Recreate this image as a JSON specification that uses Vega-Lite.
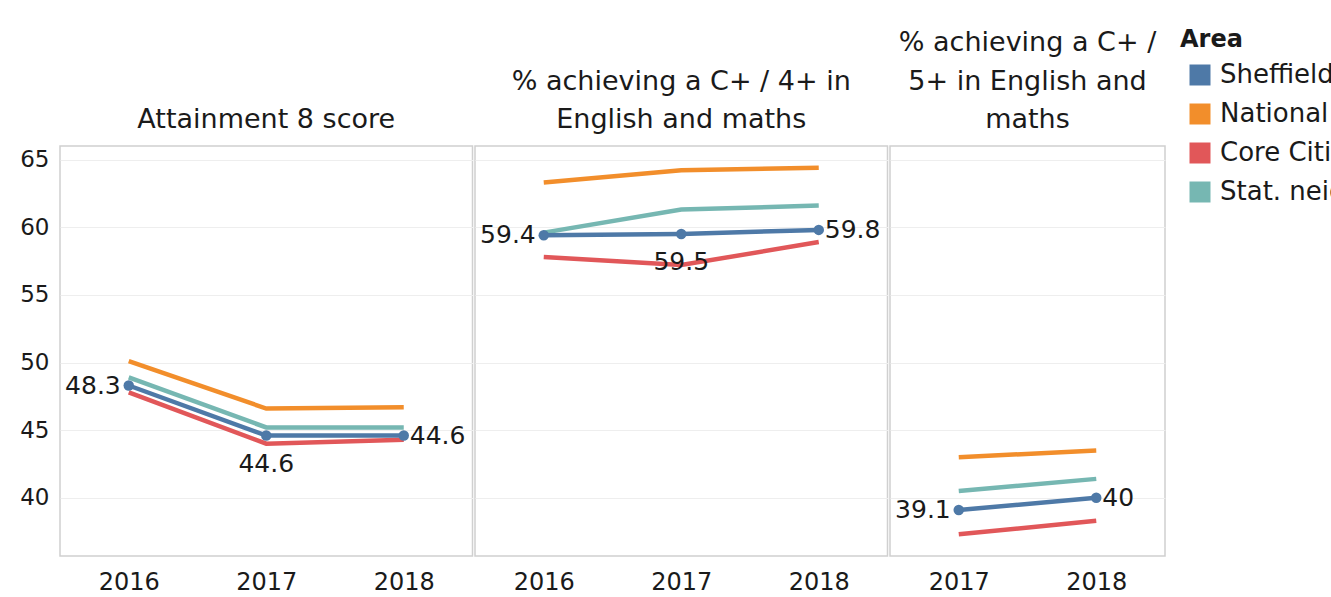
{
  "$schema": "https://vega.github.io/schema/vega-lite/v6.json",
  "padding": {"left": 19, "top": 28, "right": 0, "bottom": 0},
  "background": "white",
  "data": {"values": [
    {"Measure": "Attainment 8 score", "Area": "Sheffield", "Year": 2016, "Value": 48.3},
    {"Measure": "Attainment 8 score", "Area": "Sheffield", "Year": 2017, "Value": 44.6},
    {"Measure": "Attainment 8 score", "Area": "Sheffield", "Year": 2018, "Value": 44.6},
    {"Measure": "Attainment 8 score", "Area": "National", "Year": 2016, "Value": 50.1},
    {"Measure": "Attainment 8 score", "Area": "National", "Year": 2017, "Value": 46.6},
    {"Measure": "Attainment 8 score", "Area": "National", "Year": 2018, "Value": 46.7},
    {"Measure": "Attainment 8 score", "Area": "Core Cities", "Year": 2016, "Value": 47.8},
    {"Measure": "Attainment 8 score", "Area": "Core Cities", "Year": 2017, "Value": 44.0},
    {"Measure": "Attainment 8 score", "Area": "Core Cities", "Year": 2018, "Value": 44.3},
    {"Measure": "Attainment 8 score", "Area": "Stat. neighbours", "Year": 2016, "Value": 48.9},
    {"Measure": "Attainment 8 score", "Area": "Stat. neighbours", "Year": 2017, "Value": 45.2},
    {"Measure": "Attainment 8 score", "Area": "Stat. neighbours", "Year": 2018, "Value": 45.2},
    {"Measure": "% achieving a C+ / 4+ in English and maths", "Area": "Sheffield", "Year": 2016, "Value": 59.4},
    {"Measure": "% achieving a C+ / 4+ in English and maths", "Area": "Sheffield", "Year": 2017, "Value": 59.5},
    {"Measure": "% achieving a C+ / 4+ in English and maths", "Area": "Sheffield", "Year": 2018, "Value": 59.8},
    {"Measure": "% achieving a C+ / 4+ in English and maths", "Area": "National", "Year": 2016, "Value": 63.3},
    {"Measure": "% achieving a C+ / 4+ in English and maths", "Area": "National", "Year": 2017, "Value": 64.2},
    {"Measure": "% achieving a C+ / 4+ in English and maths", "Area": "National", "Year": 2018, "Value": 64.4},
    {"Measure": "% achieving a C+ / 4+ in English and maths", "Area": "Core Cities", "Year": 2016, "Value": 57.8},
    {"Measure": "% achieving a C+ / 4+ in English and maths", "Area": "Core Cities", "Year": 2017, "Value": 57.2},
    {"Measure": "% achieving a C+ / 4+ in English and maths", "Area": "Core Cities", "Year": 2018, "Value": 58.9},
    {"Measure": "% achieving a C+ / 4+ in English and maths", "Area": "Stat. neighbours", "Year": 2016, "Value": 59.6},
    {"Measure": "% achieving a C+ / 4+ in English and maths", "Area": "Stat. neighbours", "Year": 2017, "Value": 61.3},
    {"Measure": "% achieving a C+ / 4+ in English and maths", "Area": "Stat. neighbours", "Year": 2018, "Value": 61.6},
    {"Measure": "% achieving a C+ / 5+ in English and maths", "Area": "Sheffield", "Year": 2017, "Value": 39.1},
    {"Measure": "% achieving a C+ / 5+ in English and maths", "Area": "Sheffield", "Year": 2018, "Value": 40},
    {"Measure": "% achieving a C+ / 5+ in English and maths", "Area": "National", "Year": 2017, "Value": 43.0},
    {"Measure": "% achieving a C+ / 5+ in English and maths", "Area": "National", "Year": 2018, "Value": 43.5},
    {"Measure": "% achieving a C+ / 5+ in English and maths", "Area": "Core Cities", "Year": 2017, "Value": 37.3},
    {"Measure": "% achieving a C+ / 5+ in English and maths", "Area": "Core Cities", "Year": 2018, "Value": 38.3},
    {"Measure": "% achieving a C+ / 5+ in English and maths", "Area": "Stat. neighbours", "Year": 2017, "Value": 40.5},
    {"Measure": "% achieving a C+ / 5+ in English and maths", "Area": "Stat. neighbours", "Year": 2018, "Value": 41.4}
  ]},
  "facet": {
    "column": {
      "field": "Measure",
      "type": "nominal",
      "sort": ["Attainment 8 score", "% achieving a C+ / 4+ in English and maths", "% achieving a C+ / 5+ in English and maths"],
      "title": null,
      "header": {
        "labelExpr": "datum.value === '% achieving a C+ / 4+ in English and maths' ? ['% achieving a C+ / 4+ in', 'English and maths'] : datum.value === '% achieving a C+ / 5+ in English and maths' ? ['% achieving a C+ /', '5+ in English and', 'maths'] : datum.value"
      }
    }
  },
  "spacing": 0,
  "resolve": {"scale": {"x": "independent"}},
  "spec": {
    "width": {"step": 137.5},
    "height": 410,
    "encoding": {
      "x": {"field": "Year", "type": "ordinal", "title": null},
      "y": {"field": "Value", "type": "quantitative", "title": null, "scale": {"domain": [35.7, 66], "nice": false, "zero": false}, "axis": {"values": [40, 45, 50, 55, 60, 65]}}
    },
    "layer": [
      {
        "transform": [{"filter": "datum.Area !== 'Sheffield'"}],
        "mark": {"type": "line", "strokeWidth": 4.5},
        "encoding": {
          "color": {"field": "Area", "type": "nominal", "title": "Area",
            "scale": {"domain": ["Sheffield", "National", "Core Cities", "Stat. neighbours"], "range": ["#4e79a7", "#f28e2b", "#e15759", "#76b7b2"]},
            "legend": {"orient": "none", "legendX": 1120, "legendY": -118, "symbolOffset": 7, "encode": {"symbols": {"update": {"fill": {"scale": "color", "field": "value"}, "strokeWidth": {"value": 0}, "opacity": {"value": 1}}}}}
          }
        }
      },
      {
        "transform": [{"filter": "datum.Area === 'Sheffield'"}],
        "mark": {"type": "line", "strokeWidth": 4.5, "point": {"filled": true, "size": 110, "opacity": 1}},
        "encoding": {
          "color": {"field": "Area", "type": "nominal"}
        }
      },
      {
        "transform": [
          {"filter": "datum.Area === 'Sheffield'"},
          {"joinaggregate": [{"op": "min", "field": "Year", "as": "minYear"}, {"op": "max", "field": "Year", "as": "maxYear"}], "groupby": ["Measure"]},
          {"filter": "datum.Year === datum.minYear"}
        ],
        "mark": {"type": "text", "align": "right", "baseline": "middle", "dx": -8, "fontSize": 25, "color": "#1a1a1a"},
        "encoding": {"text": {"field": "Value", "type": "quantitative"}}
      },
      {
        "transform": [
          {"filter": "datum.Area === 'Sheffield'"},
          {"joinaggregate": [{"op": "min", "field": "Year", "as": "minYear"}, {"op": "max", "field": "Year", "as": "maxYear"}], "groupby": ["Measure"]},
          {"filter": "datum.Year === datum.maxYear"}
        ],
        "mark": {"type": "text", "align": "left", "baseline": "middle", "dx": 6, "fontSize": 25, "color": "#1a1a1a"},
        "encoding": {"text": {"field": "Value", "type": "quantitative"}}
      },
      {
        "transform": [
          {"filter": "datum.Area === 'Sheffield'"},
          {"joinaggregate": [{"op": "min", "field": "Year", "as": "minYear"}, {"op": "max", "field": "Year", "as": "maxYear"}], "groupby": ["Measure"]},
          {"filter": "datum.Year !== datum.minYear && datum.Year !== datum.maxYear"}
        ],
        "mark": {"type": "text", "align": "center", "baseline": "middle", "dy": 28, "fontSize": 25, "color": "#1a1a1a"},
        "encoding": {"text": {"field": "Value", "type": "quantitative"}}
      }
    ]
  },
  "config": {
    "font": "DejaVu Sans",
    "view": {"stroke": "#d0d0d0", "strokeWidth": 1.5},
    "axis": {"labelFont": "DejaVu Sans", "labelColor": "#1a1a1a", "domain": false, "ticks": false},
    "axisY": {"grid": true, "gridColor": "#eeeeee", "gridWidth": 1.2, "labelPadding": 10, "labelFontSize": 23},
    "axisX": {"grid": false, "labelAngle": 0, "labelPadding": 14, "labelFontSize": 24},
    "header": {"labelFont": "DejaVu Sans", "labelFontSize": 27, "labelColor": "#1a1a1a", "labelLineHeight": 38.5, "labelPadding": -2, "labelBaseline": "middle"},
    "legend": {
      "titleFont": "DejaVu Sans", "titleFontSize": 24, "titleFontWeight": "bold", "titleColor": "#1a1a1a", "titlePadding": 10,
      "labelFont": "DejaVu Sans", "labelFontSize": 26, "labelColor": "#1a1a1a",
      "symbolType": "square", "symbolSize": 441, "rowPadding": 13, "labelOffset": 7
    }
  }
}
